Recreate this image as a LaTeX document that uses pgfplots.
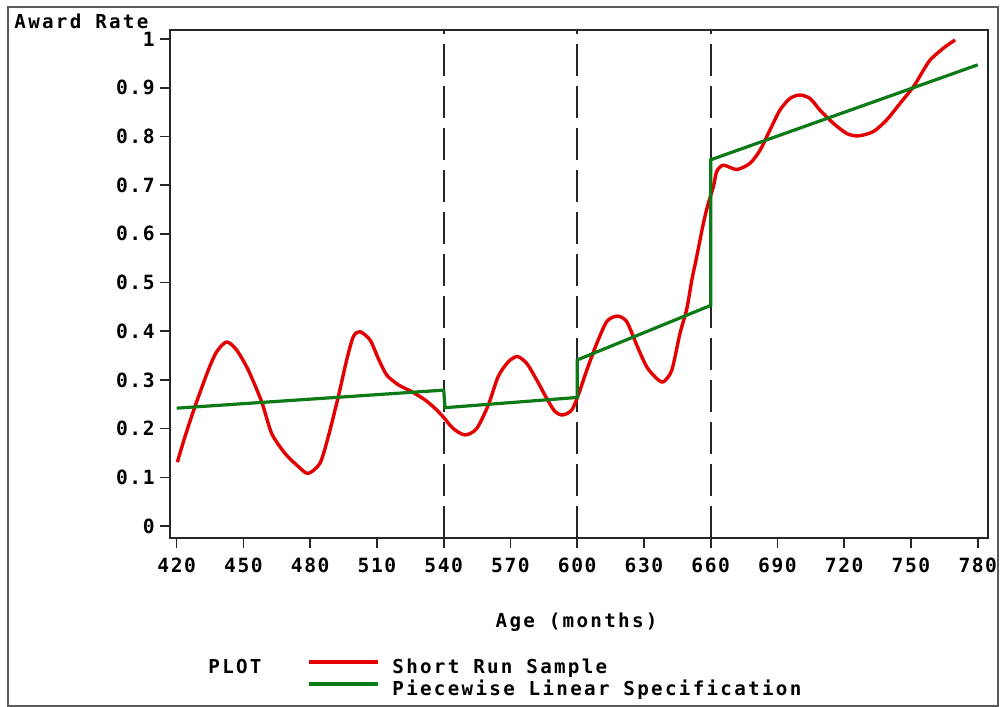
\documentclass[border=0pt]{standalone}
\usepackage{fontspec}
\usepackage{pgfplots}
\pgfplotsset{compat=1.18}
\newfontfamily\sastext{DejaVu Sans Mono}[LetterSpace=12]
\newfontfamily\sasnum{DejaVu Sans Mono}[LetterSpace=8]
\definecolor{sasred}{RGB}{228,0,0}
\definecolor{sasgreen}{RGB}{12,122,22}
\definecolor{frame}{RGB}{90,90,90}

\begin{document}
\begin{tikzpicture}
\useasboundingbox (-85pt,-84.5pt) rectangle (419pt,269pt);
\begin{axis}[
  at={(0,0)}, anchor=south west,
  scale only axis, width=409pt, height=254pt,
  xmin=417, xmax=784.6,
  ymin=-0.0246, ymax=1.0185,
  xtick={420,450,480,510,540,570,600,630,660,690,720,750,780},
  ytick={0,0.1,0.2,0.3,0.4,0.5,0.6,0.7,0.8,0.9,1},
  yticklabels={0,0.1,0.2,0.3,0.4,0.5,0.6,0.7,0.8,0.9,1},
  /pgf/number format/assume math mode=true,
  tick align=outside, tick pos=left,
  major tick length=5pt,
  axis line style={line width=0.8pt, black!85},
  every tick/.style={line width=0.8pt, black!85},
  ticklabel style={font=\sasnum\bfseries\fontsize{9.8}{11}\selectfont, inner sep=0pt},
  xticklabel style={anchor=north, yshift=-5pt},
  yticklabel style={anchor=east, xshift=-2.5pt},
  clip=false,
  legend style={at={(axis description cs:0,0)}, anchor=north west,
    xshift=68.5pt, yshift=-60.5pt, draw=none, fill=none,
    inner sep=0pt, outer sep=0pt, row sep=0pt, column sep=6pt,
    font=\sastext\bfseries\fontsize{9.6}{11}\selectfont,
    nodes={inner sep=0pt, outer sep=0pt, anchor=base west, text height=7pt, text depth=4pt}},
  legend cell align=left,
  legend image code/.code={\draw[#1, line width=2.2pt] (0pt,5.5pt) -- (34.5pt,5.5pt);},
]
% reference lines at the segment breaks
\addplot[black!85, line width=0.8pt, dash pattern=on 16pt off 5pt, forget plot]
  coordinates {(540,-0.0246) (540,1.0185)};
\addplot[black!85, line width=0.8pt, dash pattern=on 16pt off 5pt, forget plot]
  coordinates {(600,-0.0246) (600,1.0185)};
\addplot[black!85, line width=0.8pt, dash pattern=on 16pt off 5pt, forget plot]
  coordinates {(660,-0.0246) (660,1.0185)};

\addplot[sasred, line width=1.7pt, line join=round, smooth, tension=0.45] coordinates {
(420.3,0.131) (423.7,0.183) (428.2,0.245) (434.2,0.320) (438,0.358)
(442.5,0.378) (447,0.361) (452.2,0.320) (458.2,0.255) (462.7,0.190)
(468.7,0.149) (474.7,0.122) (479.1,0.108) (484.4,0.129) (488.1,0.183)
(492.6,0.265) (496.4,0.341) (499.4,0.389) (502.4,0.399) (506.9,0.382)
(510.6,0.344) (514.4,0.310) (519.6,0.290) (525.6,0.276) (531.6,0.259)
(536,0.242) (539.8,0.224) (544.3,0.200) (549.6,0.187) (554.8,0.200)
(560,0.248) (564.5,0.307) (569,0.337) (573.1,0.348) (577.3,0.334)
(581.8,0.300) (586.3,0.262) (590,0.235) (593.5,0.228) (597.5,0.238)
(600.5,0.269) (604.3,0.320) (608.8,0.375) (613.3,0.420) (618,0.431)
(622.2,0.420) (626.7,0.372) (631.2,0.327) (635.7,0.303) (638.7,0.296)
(642.5,0.320) (646.2,0.396) (649.2,0.445) (651.5,0.505) (653.7,0.553)
(656.4,0.615) (658.5,0.656) (661.2,0.697) (662.7,0.728) (665.7,0.741)
(671.7,0.732) (677.7,0.745) (682.2,0.772) (686.6,0.813) (691.1,0.854)
(695.6,0.878) (700.1,0.885) (704.6,0.878) (709.1,0.854) (715.1,0.827)
(721.1,0.806) (726.3,0.801) (733.1,0.810) (739.1,0.834) (745.1,0.868)
(751.1,0.902) (754.8,0.930) (758.6,0.957) (764.5,0.981) (769.8,0.998)
};
\addplot[sasgreen, line width=1.6pt, line join=miter] coordinates {
(420,0.242) (540,0.279) (540.6,0.243) (600,0.264) (600,0.341)
(660,0.453) (660,0.752) (780,0.947)
};
\legend{Short Run Sample,Piecewise Linear Specification}
\end{axis}
\node[anchor=base west, inner sep=0pt, font=\sastext\bfseries\fontsize{9.6}{11}\selectfont] at (-78pt,254.5pt) {Award Rate};
\node[anchor=base, inner sep=0pt, font=\sastext\bfseries\fontsize{9.6}{11}\selectfont] at (203.3pt,-45pt) {Age (months)};
\node[anchor=base west, inner sep=0pt, font=\sastext\bfseries\fontsize{9.6}{11}\selectfont] at (19pt,-67.5pt) {PLOT};
\draw[frame, line width=1pt] (-81pt,-84pt) rectangle (414pt,265.5pt);
\end{tikzpicture}
\end{document}
